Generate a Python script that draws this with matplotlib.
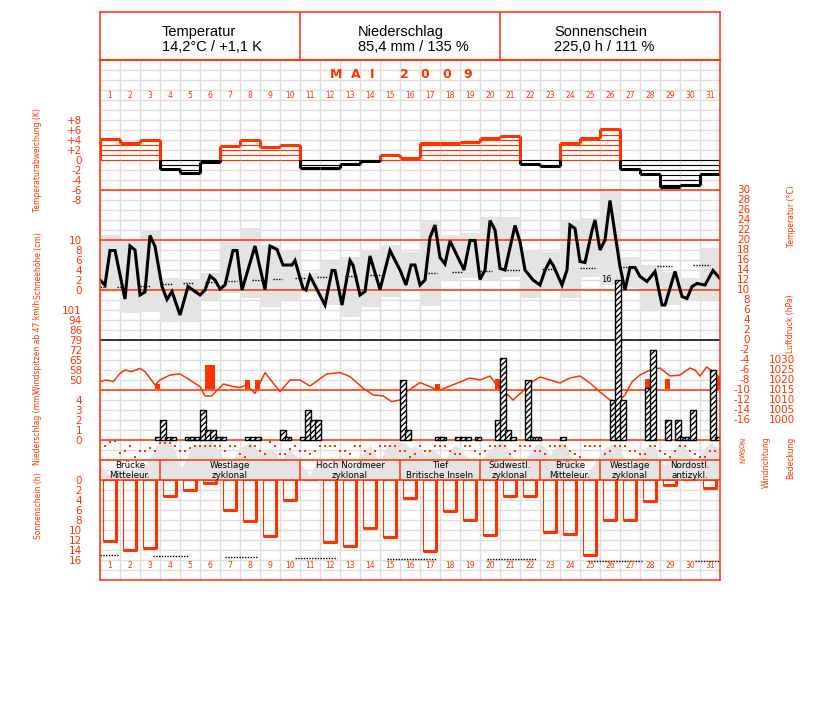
import numpy as np
import matplotlib.pyplot as plt

W, H = 827, 702
ROT = '#FF3300'
GITTER = '#DEDEDE'
GRAU = '#E4E4E4'

# ---------------- Daten ----------------
tage = np.arange(1, 32)

# Tagesabweichung der Temperatur (K)
abweichung = [4.2, 3.5, 4.0, -1.8, -2.5, -0.4, 2.8, 4.0, 2.6, 3.0,
              -1.5, -1.5, -0.7, -0.2, 1.0, 0.5, 3.5, 3.5, 3.7, 4.5,
              4.9, -0.7, -1.2, 3.5, 4.5, 6.2, -1.7, -2.7, -5.3, -5.0, -2.8]

# Temperaturverlauf (Zeit in Tagen ab 1.5. 0 Uhr, Temperatur in °C)
temp_t = [0.0, 0.25, 0.5, 0.75, 1.25, 1.5, 1.75, 2.0, 2.25, 2.5,
          2.75, 3.1, 3.35, 3.6, 4.0, 4.4, 4.75, 5.0, 5.25, 5.5,
          5.75, 6.0, 6.25, 6.65, 6.85, 7.1, 7.75, 8.25, 8.5, 8.85,
          9.15, 9.6, 9.75, 10.15, 10.3, 10.5, 11.25, 11.6, 11.75, 12.1,
          12.5, 12.65, 13.0, 13.25, 13.5, 14.0, 14.5, 15.0, 15.3, 15.55,
          15.75, 16.0, 16.25, 16.5, 16.75, 17.0, 17.25, 17.5, 18.2, 18.5,
          18.75, 19.0, 19.25, 19.5, 19.75, 20.0, 20.25, 20.75, 21.0, 21.25,
          21.65, 22.0, 22.25, 22.5, 22.65, 23.1, 23.35, 23.5, 23.75, 24.0,
          24.25, 24.6, 24.75, 25.0, 25.25, 25.5, 25.75, 26.0, 26.25, 26.5,
          26.75, 27.0, 27.35, 27.75, 28.1, 28.25, 28.75, 29.1, 29.35, 29.6,
          29.85, 30.25, 30.65, 31.0]
temp_v = [12.0, 11.0, 17.9, 17.9, 8.2, 18.8, 18.0, 9.0, 9.6, 20.9,
          18.7, 10.7, 8.1, 9.7, 5.0, 10.7, 9.7, 9.0, 10.0, 12.8,
          12.0, 10.2, 11.0, 17.9, 17.9, 10.0, 18.8, 10.1, 18.8, 18.1,
          15.0, 15.0, 15.9, 10.3, 10.0, 12.8, 7.0, 13.9, 13.9, 7.0,
          15.9, 15.0, 9.0, 9.7, 16.8, 10.1, 17.9, 14.0, 11.0, 15.0,
          15.0, 11.0, 12.0, 20.5, 23.0, 16.5, 15.2, 19.8, 14.0, 19.9,
          19.9, 12.1, 14.0, 23.9, 22.0, 14.3, 14.0, 22.9, 19.7, 14.0,
          12.0, 11.0, 13.9, 15.9, 15.0, 11.0, 14.0, 23.0, 22.3, 15.7,
          15.5, 21.9, 24.0, 18.0, 20.0, 27.9, 21.3, 14.7, 10.0, 14.5,
          14.5, 12.7, 11.7, 13.7, 7.0, 7.0, 13.7, 8.7, 8.3, 10.7,
          11.3, 11.0, 13.9, 12.3]

# graue Tagesbänder (°C)
band_hoch = [21.0, 20.0, 22.0, 12.4, 12.2, 13.4, 19.6, 22.4, 19.0, 18.0,
             13.4, 15.8, 16.6, 18.0, 19.0, 17.6, 24.0, 21.0, 21.4, 24.6,
             24.6, 18.0, 17.6, 23.8, 24.4, 30.0, 16.6, 15.0, 13.6, 12.4, 18.4]
band_tief = [9.6, 5.4, 5.6, 3.6, 3.6, 8.0, 9.4, 8.4, 6.6, 8.0,
             9.6, 7.0, 4.6, 6.6, 8.6, 10.4, 6.8, 12.0, 12.4, 12.0,
             12.6, 8.4, 10.0, 8.4, 12.6, 11.0, 10.4, 6.0, 7.0, 8.0, 8.0]

# langjähriges Mittel (gepunktete Stücke): Anfang, Ende (Tage), °C
mittel_von = [0.0, 0.85, 2.0, 3.1, 4.15, 5.25, 6.4, 7.6, 8.65, 9.75, 10.85,
              12.25, 13.5, 16.4, 17.6, 19.0, 20.35, 22.1, 24.0, 26.0, 27.85, 29.65]
mittel_bis = [0.25, 1.1, 2.5, 3.6, 4.65, 5.75, 6.85, 8.1, 9.1, 10.25, 11.4,
              12.85, 14.1, 16.85, 18.15, 19.6, 21.0, 22.75, 24.75, 26.4, 28.6, 30.5]
mittel_v = [10.6, 10.6, 10.8, 11.2, 11.4, 11.6, 11.8, 12.0, 12.2, 12.4, 12.6,
            12.8, 13.0, 13.4, 13.6, 13.8, 14.0, 14.2, 14.4, 14.6, 14.8, 15.0]

# Windspitzen (km/h), Zeit in Tagen
boe_t = [2.75, 5.25, 5.5, 7.25, 7.75, 16.75, 19.75, 27.25, 28.25, 30.75]
boe_v = [46.9, 60.9, 60.9, 50.0, 50.0, 46.9, 50.7, 50.7, 50.7, 52.0]
boe_basis = 43.3

# Luftdruck (hPa)
druck_t = [0.0, 0.33, 0.67, 1.0, 1.25, 1.58, 2.0, 2.25, 2.75, 3.0,
           3.5, 4.0, 4.5, 5.0, 5.25, 5.58, 6.17, 6.67, 7.0, 7.33,
           7.75, 8.25, 8.67, 9.0, 9.5, 10.0, 10.5, 11.33, 12.0, 12.5,
           13.17, 13.67, 14.17, 14.58, 15.0, 15.33, 16.0, 16.5, 16.83, 17.0,
           18.0, 18.5, 19.0, 19.5, 19.75, 20.25, 20.65, 21.1, 21.5, 22.0,
           22.5, 23.0, 23.5, 24.0, 24.5, 25.0, 25.5, 25.9, 26.25, 26.6,
           27.0, 27.5, 28.0, 28.5, 29.0, 29.5, 29.75, 30.0, 30.33, 30.67, 31.0]
druck_v = [1019.2, 1020.0, 1019.2, 1023.3, 1025.0, 1024.2, 1025.8, 1024.2, 1017.5, 1020.0,
           1022.5, 1023.0, 1020.0, 1016.7, 1012.0, 1012.0, 1018.0, 1016.7, 1016.3, 1017.5,
           1013.3, 1023.7, 1018.3, 1014.2, 1020.0, 1020.0, 1017.0, 1023.0, 1023.7, 1021.7,
           1015.8, 1012.5, 1012.0, 1009.2, 1010.0, 1014.2, 1018.7, 1016.7, 1015.0, 1015.0,
           1019.0, 1021.0, 1020.0, 1022.0, 1018.5, 1014.0, 1010.0, 1014.0, 1018.5, 1021.5,
           1020.0, 1018.5, 1021.0, 1022.0, 1018.5, 1014.0, 1010.0, 1009.0, 1012.5, 1019.0,
           1022.5, 1025.0, 1026.0, 1022.0, 1022.5, 1026.0, 1025.0, 1022.0, 1026.5, 1024.0, 1021.0]

# Niederschlag (mm) in 6-Stunden-Schritten
regen_t = [2.75, 3.0, 3.25, 3.5, 4.25, 4.5, 4.75, 5.0, 5.25, 5.5,
           5.75, 6.0, 7.25, 7.5, 7.75, 9.0, 9.25, 10.0, 10.25, 10.5,
           10.75, 15.0, 15.25, 16.75, 17.0, 17.75, 18.0, 18.25, 18.75, 19.75,
           20.0, 20.25, 20.5, 21.25, 21.5, 21.75, 23.0, 25.5, 25.75, 26.0,
           27.25, 27.5, 28.25, 28.75, 29.0, 29.25, 29.5, 30.5, 30.75]
regen_v = [0.3, 2.0, 0.3, 0.3, 0.3, 0.3, 0.3, 3.0, 1.0, 1.0,
           0.3, 0.3, 0.3, 0.3, 0.3, 1.0, 0.3, 0.3, 3.0, 2.0,
           2.0, 6.0, 1.0, 0.3, 0.3, 0.3, 0.3, 0.3, 0.3, 2.0,
           8.2, 1.0, 0.3, 6.0, 0.3, 0.3, 0.3, 4.0, 16.0, 4.0,
           5.2, 9.0, 2.0, 2.0, 0.3, 0.3, 3.0, 7.0, 0.3]

# Windrichtung (Grad) und Bedeckung (Achtel), 6-stündlich
richtung = [193, 103, 41, 13, 229, 193, 103, 311, 193, 193,
            139, 193, 49, 49, 49, 103, 193, 193, 139, 103,
            103, 103, 103, 103, 103, 193, 103, 103, 250, 300,
            103, 103, 190, 250, 40, 103, 250, 250, 170, 103,
            193, 193, 250, 193, 103, 103, 103, 103, 193, 193,
            250, 103, 103, 193, 250, 193, 103, 103, 103, 103,
            193, 193, 300, 250, 103, 193, 193, 103, 103, 103,
            190, 250, 250, 103, 103, 193, 250, 193, 103, 103,
            103, 103, 250, 193, 103, 103, 103, 193, 193, 250,
            103, 103, 103, 103, 193, 250, 300, 103, 103, 103,
            103, 250, 193, 103, 103, 103, 193, 193, 250, 250,
            103, 103, 193, 250, 300, 193, 103, 103, 193, 250,
            300, 300, 193, 193]
bedeckung = [3.0, 2.0, 1.0, 2.4, 1.6, 2.0, 0.4, 2.0, 1.6, 3.0,
             4.4, 6.4, 7.6, 7.8, 7.4, 6.0, 2.0, 3.6, 6.0, 7.0,
             7.0, 7.4, 8.0, 7.0, 5.6, 3.6, 2.0, 5.0, 6.4, 7.0,
             7.6, 6.4, 5.0, 6.0, 6.4, 5.6, 4.0, 5.0, 6.0, 5.0,
             3.6, 2.0, 1.0, 3.0, 4.4, 3.6, 2.0, 4.0, 5.0, 3.6,
             2.0, 3.0, 5.0, 6.0, 7.0, 5.0, 3.6, 6.0, 7.6, 7.8,
             7.6, 7.4, 6.4, 6.8, 6.0, 5.0, 6.4, 5.6, 5.0, 3.6,
             6.0, 7.0, 6.4, 5.0, 4.0, 4.4, 3.6, 5.0, 6.0, 7.0,
             8.0, 7.0, 5.6, 3.6, 2.0, 4.0, 5.6, 7.0, 7.4, 6.4,
             5.0, 6.4, 7.6, 7.0, 5.0, 3.6, 2.0, 0.4, 2.0, 3.6,
             5.0, 6.4, 7.0, 7.4, 6.0, 4.0, 2.4, 3.6, 5.0, 6.4,
             7.0, 6.4, 4.0, 3.0, 5.0, 6.4, 7.4, 6.4, 5.0, 3.6,
             5.0, 6.4, 7.4, 7.0, 6.0]

# Großwetterlagen
gwl_von = [0, 3, 10, 15, 19, 22, 25, 28]
gwl_bis = [3, 10, 15, 19, 22, 25, 28, 31]
gwl_text = ['Brücke\nMitteleur.', 'Westlage\nzyklonal', 'Hoch Nordmeer\nzyklonal',
            'Tief\nBritische Inseln', 'Südwestl.\nzyklonal', 'Brücke\nMitteleur.',
            'Westlage\nzyklonal', 'Nordostl.\nantizykl.']

# Sonnenscheindauer (h)
sonne = [12.1, 14.0, 13.5, 3.2, 1.9, 0.5, 5.9, 8.2, 11.1, 3.9,
         0.0, 12.3, 13.2, 9.5, 11.3, 3.5, 14.2, 6.2, 7.9, 11.0,
         3.2, 3.2, 10.3, 10.7, 15.0, 7.9, 7.9, 4.1, 1.0, 0.0, 1.5]
# astronomisch mögliche Dauer (gepunktet)
moegl_von = [0.0, 2.65, 6.25, 9.75, 14.35, 19.35, 24.4, 29.75]
moegl_bis = [0.9, 4.4, 7.9, 11.85, 16.85, 21.85, 27.1, 31.0]
moegl_v = [14.9, 15.1, 15.3, 15.5, 15.7, 15.85, 16.1, 16.2]

kopf = ['Temperatur\n14,2°C / +1,1 K', 'Niederschlag\n85,4 mm / 135 %', 'Sonnenschein\n225,0 h / 111 %']
monat = 'MAI 2009'

# ---------------- Zeichnung ----------------
fig = plt.figure(figsize=(W / 100, H / 100), dpi=100)


def rect(y0, y1, x0=100, x1=720):
    return [x0 / W, 1 - y1 / H, (x1 - x0) / W, (y1 - y0) / H]


def panel(v0, px0, ppu, z):
    # Achse über den ganzen Kasten: Wert v0 liegt auf Pixelzeile px0, ppu Pixel je Einheit
    ax = fig.add_axes(rect(60, 580), zorder=z)
    ax.set_xlim(0, 31)
    ax.set_ylim(v0 + (px0 - 580) / ppu, v0 + (px0 - 60) / ppu)
    ax.patch.set_visible(False)
    for s in ax.spines.values():
        s.set_visible(False)
    ax.set_xticks([])
    ax.set_yticks([])
    return ax


def ticks(ax, werte, texte, rechts=False, pad_px=18, size=7.5, rot=0):
    ax.set_yticks(werte, texte)
    ax.tick_params(axis='y', length=0, pad=pad_px * 0.72, labelcolor=ROT,
                   labelsize=size, left=False, right=False,
                   labelleft=not rechts, labelright=rechts, labelrotation=rot)
    if rechts:
        for lab in ax.get_yticklabels():
            lab.set_ha('right')
            lab.set_va('center')


# Hintergrundgitter (Pixelzeilen)
ax_bg = panel(0, 0, -1, 0)
ax_bg.vlines(np.arange(0, 32), 60, 580, color=GITTER, lw=1)
ax_bg.hlines(np.arange(60, 581, 10), 0, 31, color=GITTER, lw=1)

# graue Flächen
ax_band = panel(0, 340, 5, 1)
ax_band.bar(tage - 1, np.array(band_hoch) - np.array(band_tief), bottom=band_tief,
            width=1.0, align='edge', color=GRAU, lw=0)
ax_wolke = panel(0, 480, 5, 1)
wt = np.arange(len(bedeckung)) * 0.25
ax_wolke.fill_between(wt, 0, bedeckung, color=GRAU, lw=0)

# Trennlinien
ax_lin = panel(0, 0, -1, 2)
ax_lin.hlines([60, 190, 240, 290, 390, 440, 460, 480], 0, 31, color=ROT, lw=1.1)
ax_lin.hlines(340, 0, 31, color='black', lw=1.1)

# Temperaturabweichung
ax_dev = panel(0, 160, 5, 3)
ticks(ax_dev, [8, 6, 4, 2, 0, -2, -4, -6, -8],
      ['+8', '+6', '+4', '+2', '0', '-2', '-4', '-6', '-8'])
for i, v in enumerate(abweichung):
    farbe = ROT if v > 0 else 'black'
    s = 1 if v > 0 else -1
    stufen = np.arange(0, int(abs(v)) + 1) * s
    ax_dev.hlines(stufen, i, i + 1, color=farbe, lw=0.8)
    ax_dev.hlines(v, i, i + 1, color=farbe, lw=2.2)
kante = [0] + list(abweichung) + [0]
for j in range(32):
    a, b = kante[j], kante[j + 1]
    lo, hi = min(a, b), max(a, b)
    if hi > 0:
        ax_dev.vlines(j, max(lo, 0), hi, color=ROT, lw=2.2)
    if lo < 0:
        ax_dev.vlines(j, lo, min(hi, 0), color='black', lw=2.2)

# Schneehöhe (keine Werte im Mai)
ax_schnee = panel(0, 290, 5, 3)
ticks(ax_schnee, [10, 8, 6, 4, 2, 0], ['10', '8', '6', '4', '2', '0'])

# Temperatur
ax_t = panel(0, 340, 5, 4)
ticks(ax_t, np.arange(30, -17, -2), [str(v) for v in range(30, -17, -2)],
      rechts=True, pad_px=30)
ax_t.hlines(mittel_v, mittel_von, mittel_bis, color='black', lw=1, linestyles=(0, (1, 1)))
ax_t.plot(temp_t, temp_v, color='black', lw=2.2, solid_joinstyle='miter')

# Windspitzen
wind_lab = ['101', '94', '86', '79', '72', '65', '58', '50']
ax_w = panel(101, 310, 10 / 7.2857, 4)
ticks(ax_w, np.linspace(101, 50, 8), wind_lab)
ax_w.bar(boe_t, np.array(boe_v) - boe_basis, bottom=boe_basis, width=0.27,
         align='edge', color=ROT, lw=0)

# Luftdruck
ax_p = panel(1015, 390, 2, 5)
ticks(ax_p, np.arange(1030, 999, -5), [str(v) for v in range(1030, 999, -5)],
      rechts=True, pad_px=75)
ax_p.plot(druck_t, druck_v, color=ROT, lw=1.1)

# Niederschlag
ax_r = panel(0, 440, 10, 6)
ticks(ax_r, [4, 3, 2, 1, 0], ['4', '3', '2', '1', '0'])
ax_r.bar(regen_t, regen_v, width=0.3, align='edge', facecolor='white',
         edgecolor='black', hatch='//////', lw=1.0)
imax = int(np.argmax(regen_v))
ax_r.text(regen_t[imax] - 0.15, regen_v[imax], '%d' % regen_v[imax], ha='right',
          va='center', fontsize=6, color='black')

# Windrichtung
ax_d = panel(0, 440, -20 / 360, 6)
ticks(ax_d, [0, 90, 180, 270, 360], ['N', 'O', 'S', 'W', 'N'], rechts=True,
      pad_px=26, size=5, rot=90)
ax_d.scatter(np.arange(len(richtung)) * 0.25, richtung, marker='s', s=4,
             color=ROT, lw=0)

# Sonnenschein
ax_s = panel(0, 480, -5, 6)
ticks(ax_s, np.arange(0, 17, 2), [str(v) for v in range(0, 17, 2)])
ax_s.bar(tage - 1 + 0.15, sonne, width=0.7, align='edge', fill=False,
         edgecolor=ROT, lw=0.8)
for i, v in enumerate(sonne):
    if v > 0:
        ax_s.vlines(i + 0.82, 0, v, color=ROT, lw=2.2)
        ax_s.hlines(v, i + 0.15, i + 0.85, color=ROT, lw=2.2)
ax_s.hlines(moegl_v, moegl_von, moegl_bis, color='black', lw=1, linestyles=(0, (1, 1)))

# oberste Ebene: Wetterlagen, Tageszahlen, Rahmen
ax_top = panel(0, 0, -1, 8)
for a, b, txt in zip(gwl_von, gwl_bis, gwl_text):
    ax_top.vlines(a, 460, 480, color=ROT, lw=1.1)
    ax_top.text((a + b) / 2, 470.5, txt, ha='center', va='center', fontsize=6.3,
                color='black', linespacing=1.05)
for d in tage:
    ax_top.text(d - 0.5, 95, str(d), ha='center', va='center', fontsize=5.5, color=ROT)
    ax_top.text(d - 0.5, 565, str(d), ha='center', va='center', fontsize=5.5, color=ROT)
# Monatstitel, gesperrt
for x, ch in zip([11.78, 12.78, 13.6, 15.2, 16.25, 17.35, 18.38], monat.replace(' ', '')):
    ax_top.text(x, 74.5, ch, ha='center', va='center', fontsize=9,
                color=ROT, fontweight='bold')
for s in ax_top.spines.values():
    s.set_visible(True)
    s.set_color(ROT)
    s.set_linewidth(1.1)

# Kopfzeile
ax_k = fig.add_axes(rect(12, 60))
ax_k.set_xlim(0, 31)
ax_k.set_ylim(0, 1)
ax_k.set_xticks([])
ax_k.set_yticks([])
for s in ax_k.spines.values():
    s.set_color(ROT)
    s.set_linewidth(1.1)
ax_k.vlines([10, 20], 0, 1, color=ROT, lw=1.1)
for x0, txt in zip([3.1, 12.9, 22.7], kopf):
    ax_k.text(x0, 0.43, txt, ha='left', va='center', fontsize=10.5,
              family='Liberation Sans', linespacing=1.15)

# Achsentitel
links = [('Temperaturabweichung (K)', 160), ('Schneehöhe (cm)', 266),
         ('Windspitzen ab 47 km/h', 346), ('Niederschlag (mm)', 428),
         ('Sonnenschein (h)', 506)]
for txt, y in links:
    fig.text(38 / W, 1 - y / H, txt, rotation=90, ha='center', va='center',
             fontsize=5.5, color=ROT)
rechts_t = [('Temperatur (°C)', 791, 216), ('Luftdruck (hPa)', 791, 324),
            ('Windrichtung', 766, 462), ('Bedeckung', 791, 458)]
for txt, x, y in rechts_t:
    fig.text(x / W, 1 - y / H, txt, rotation=90, ha='center', va='center',
             fontsize=5.5, color=ROT)

fig.savefig('out.png', dpi=100)
